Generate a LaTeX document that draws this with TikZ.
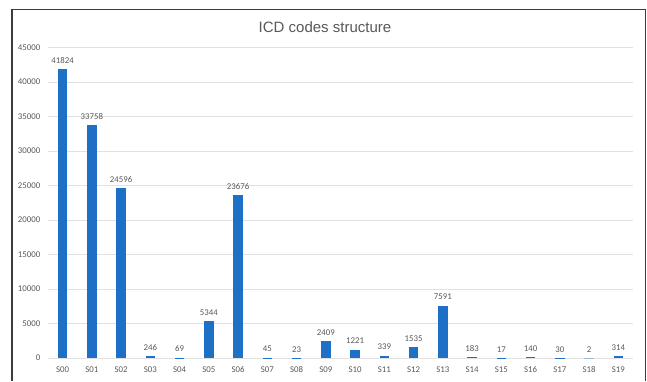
\documentclass[tikz,border=0pt]{standalone}
\usepackage{fontspec}
\setmainfont{Carlito}
\newfontfamily\titlefont{Liberation Sans}
\definecolor{barblue}{RGB}{30,112,198}
\definecolor{txtgray}{RGB}{89,89,89}
\definecolor{gridgray}{RGB}{225,225,225}
\definecolor{framegray}{RGB}{60,60,60}
\tikzset{
  gridline/.style={draw=gridgray, line width=0.9pt},
  bar/.style={fill=barblue},
  ticklabel/.style={font=\fontsize{8.8}{10}\selectfont, text=txtgray, inner sep=0pt, anchor=east},
  catlabel/.style={font=\fontsize{8.8}{10}\selectfont, text=txtgray, inner sep=0pt},
  vallabel/.style={font=\fontsize{8.8}{10}\selectfont, text=txtgray, inner sep=0pt},
  titlestyle/.style={font=\titlefont\fontsize{15}{17}\selectfont, text=txtgray, inner sep=0pt},
  framestyle/.style={draw=framegray, line width=1.3pt}
}
\begin{document}
\begin{tikzpicture}[x=1pt, y=-1pt]
\useasboundingbox (0,0) rectangle (647,381);
\fill[white] (0,0) rectangle (647,381);
% frame (top, left, right)
\coordinate (fbl) at (12,381);
\coordinate (ftl) at (12,9.5);
\coordinate (ftr) at (645.5,9.5);
\coordinate (fbr) at (645.5,381);
\draw[framestyle] (fbl) -- (ftl) -- (ftr) -- (fbr);
% title
\node[titlestyle] (title) at (325,27) {ICD codes structure};
% grid and y ticks
\foreach \k/\lab in {0/0,1/5000,2/10000,3/15000,4/20000,5/25000,6/30000,7/35000,8/40000,9/45000} {
  \coordinate (gl\k) at (48,{358-34.5*\k});
  \coordinate (gr\k) at (633,{358-34.5*\k});
  \draw[gridline] (gl\k) -- (gr\k);
  \node[ticklabel] (tick\k) at (40.5,{358-34.5*\k}) {\lab};
}
% bars
\foreach \i/\v/\t/\c in {0/41.824/41824/S00,1/33.758/33758/S01,2/24.596/24596/S02,3/0.246/246/S03,4/0.069/69/S04,
  5/5.344/5344/S05,6/23.676/23676/S06,7/0.045/45/S07,8/0.023/23/S08,9/2.409/2409/S09,
  10/1.221/1221/S10,11/0.339/339/S11,12/1.535/1535/S12,13/7.591/7591/S13,14/0.183/183/S14,
  15/0.017/17/S15,16/0.140/140/S16,17/0.030/30/S17,18/0.002/2/S18,19/0.314/314/S19} {
  \pgfmathsetmacro{\xc}{62.6+29.25*\i}
  \pgfmathsetmacro{\yt}{358-6.9*\v}
  \fill[bar] ({\xc-4.75},358) rectangle ({\xc+4.75},\yt);
  \node[vallabel] (val\i) at (\xc,{\yt-8.5}) {\t};
  \node[catlabel] (cat\i) at (\xc,370) {\c};
}
\end{tikzpicture}
\end{document}
